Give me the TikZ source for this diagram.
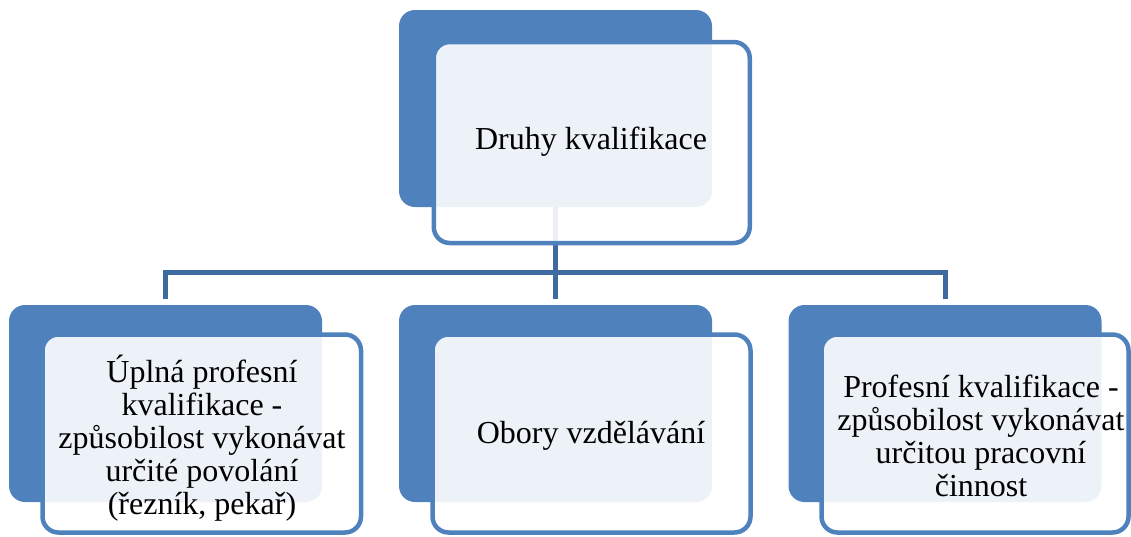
\documentclass[tikz,border=0pt]{standalone}
\usepackage{fontspec}
\setmainfont{Liberation Serif}
\definecolor{accent}{HTML}{4F81BD}
\definecolor{connc}{HTML}{3F6A9F}
\tikzset{
  backbox/.style={rectangle, rounded corners=16pt, fill=accent, draw=none, inner sep=0pt, outer sep=0pt, minimum width=313pt, minimum height=197pt},
  frontbox/.style={rectangle, rounded corners=16pt, fill=white, fill opacity=0.9, draw=accent, line width=4.5pt, inner sep=0pt, outer sep=0pt, minimum height=198pt},
  label/.style={align=center, inner sep=0pt, font=\fontsize{32}{33}\selectfont, text=black},
  conn/.style={draw=connc, line width=5pt}
}
\begin{document}
\begin{tikzpicture}[x=1pt, y=-1pt]
\useasboundingbox (0,0) rectangle (1131,536);
% back boxes
\node[backbox] (tback) at (555.5,108.5) {};
\node[backbox] (lback) at (165.5,403.5) {};
\node[backbox] (mback) at (555.5,403.5) {};
\node[backbox] (rback) at (945,403.5) {};
% connectors
\coordinate (hub) at (555.5,272.5);
\coordinate (lend) at ([yshift=6pt]lback.north);
\coordinate (mend) at ([yshift=6pt]mback.north);
\coordinate (rend) at ([yshift=6pt]rback.north);
\draw[conn] (tback.south) -- (hub);
\draw[conn] (lend) |- (hub) -| (rend);
\draw[conn] (hub) -- (mend);
% front boxes
\node[frontbox, minimum width=316pt, minimum height=201pt] (tfront) at (591.75,142.5) {};
\node[frontbox, minimum width=318.5pt] (lfront) at (201.75,433.5) {};
\node[frontbox, minimum width=318pt] (mfront) at (591.5,433.5) {};
\node[frontbox, minimum width=307pt] (rfront) at (975,433.5) {};
% texts
\node[label] (ttext) at (591,142) {Druhy kvalifikace};
\node[label] (ltext) at (202,438) {Úplná profesní\\kvalifikace -\\způsobilost vykonávat\\určité povolání\\(řezník, pekař)};
\node[label] (mtext) at (591,436) {Obory vzdělávání};
\node[label] (rtext) at (981,436) {Profesní kvalifikace -\\způsobilost vykonávat\\určitou pracovní\\činnost};
\end{tikzpicture}
\end{document}
